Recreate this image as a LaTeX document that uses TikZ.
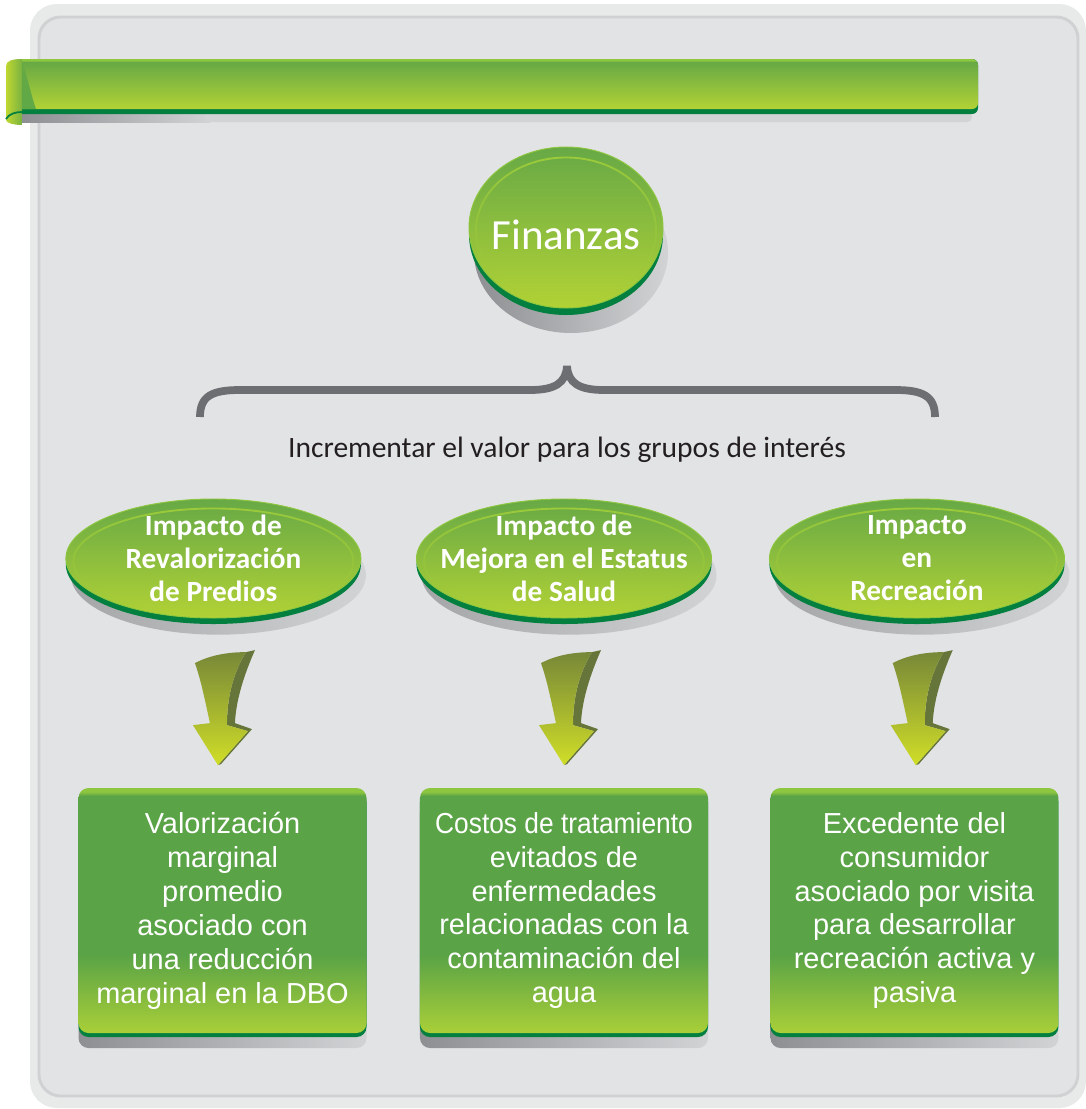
\documentclass[tikz,border=0pt]{standalone}
\usepackage{fontspec}
\newfontfamily\calibri{Carlito}
\newfontfamily\arialfont{Liberation Sans}
\usetikzlibrary{positioning,calc,shapes.geometric,fadings}

\definecolor{panelout}{HTML}{E8E9E9}
\definecolor{panelin}{HTML}{E2E3E5}
\definecolor{panelline}{HTML}{D0D1D3}
\definecolor{bantop}{HTML}{67A945}
\definecolor{banbot}{HTML}{B2D235}
\definecolor{banline}{HTML}{8DC63F}
\definecolor{foldlite}{HTML}{BFD730}
\definecolor{foldgreen}{HTML}{5EA946}
\definecolor{rimgreen}{HTML}{03803F}
\definecolor{shadowdark}{HTML}{8E8F92}
\definecolor{shadowlight}{HTML}{D2D3D5}
\definecolor{facetop}{HTML}{67A946}
\definecolor{facebot}{HTML}{B2D235}
\definecolor{hilite}{HTML}{9CCB3B}
\definecolor{boxtop}{HTML}{8DC63F}
\definecolor{boxmid}{HTML}{5AA346}
\definecolor{boxbot}{HTML}{A9CF38}
\definecolor{arrowtop}{HTML}{778838}
\definecolor{arrowbot}{HTML}{D0DE27}
\definecolor{arrowside}{HTML}{66753A}
\definecolor{textgray}{HTML}{231F20}
\definecolor{bracegray}{HTML}{6D6E71}

\pgfdeclareverticalshading{boxshade}{100bp}{color(0bp)=(boxbot); color(25bp)=(boxbot); color(41bp)=(boxmid); color(73.4bp)=(boxmid); color(74.2bp)=(boxtop); color(100bp)=(boxtop)}
\pgfdeclareverticalshading{bannershade}{100bp}{color(0bp)=(banbot); color(25bp)=(banbot); color(72bp)=(bantop); color(73.5bp)=(banline); color(100bp)=(banline)}
\tikzfading[name=fadedown, top color=transparent!0, bottom color=transparent!100]

\tikzset{
  bendarrow/.pic={
    % side face
    \fill[arrowside] (28,51) -- (37,53) .. controls (26,28) and (18,3) .. (17,-20) -- (34,-26) -- (3,-61) -- (0,-62) -- (30,-28) -- (9,-22) .. controls (9,3) and (14,28) .. (28,51) -- cycle;
    % front face
    \shade[top color=arrowtop, bottom color=arrowbot] (-23,40) .. controls (-8,48) and (10,51) .. (28,51) .. controls (14,28) and (9,3) .. (9,-22) -- (30,-28) -- (0,-62) -- (-25,-22) -- (-8,-20) .. controls (-13,3) and (-17,23) .. (-23,40) -- cycle;
  }
}

\begin{document}
\begin{tikzpicture}[x=0.03cm, y=0.03cm,
  bigdisc/.style={ellipse, inner sep=-3cm, minimum width=5.82cm, minimum height=4.83cm,
    top color=facetop, bottom color=facebot, draw=banline, line width=0.8pt,
    preaction={left color=shadowdark, right color=shadowlight, transform canvas={xshift=0.15cm, yshift=-0.75cm}},
    preaction={fill=rimgreen, transform canvas={yshift=-0.21cm}},
    text=white, font=\calibri\fontsize{36.7}{44}\selectfont, text height=1.32cm},
  oval/.style={ellipse, inner sep=-3cm, minimum width=8.85cm, minimum height=3.57cm,
    top color=facetop, bottom color=facebot, draw=banline, line width=0.8pt,
    preaction={left color=shadowdark!80, right color=shadowlight, transform canvas={xshift=0.15cm, yshift=-0.5cm}},
    preaction={fill=rimgreen, transform canvas={yshift=-0.18cm}},
    text=white, align=center, font=\calibri\bfseries\fontsize{25}{28.2}\selectfont},
  infobox/.style={rectangle, rounded corners=0.3cm, inner sep=0pt, minimum width=8.64cm, minimum height=7.35cm,
    shade, shading=boxshade,
    preaction={left color=shadowdark, right color=shadowlight, transform canvas={yshift=-0.45cm}},
    preaction={fill=rimgreen, transform canvas={yshift=-0.12cm}},
    text=white, align=center, font=\arialfont\fontsize{24.7}{29}\selectfont},
  goaltext/.style={text=textgray, font=\calibri\fontsize{25.2}{29}\selectfont},
  ring/.style={draw=hilite, line width=1.6pt, path fading=fadedown},
  brace/.style={draw=bracegray, line width=6.6pt}]
  \useasboundingbox (0,0) rectangle (1086,-1109);

  % Panel
  \fill[panelout, rounded corners=0.8cm] (30,-4) rectangle (1086,-1108);
  \filldraw[fill=panelin, draw=panelline, line width=2.5pt, rounded corners=0.65cm] (39,-17) rectangle (1078,-1096);

  % Ribbon
  \shade[left color=shadowdark, right color=shadowlight] (22,-112) rectangle (210,-122);
  \fill[shadowlight, rounded corners=4pt] (205,-112) rectangle (972,-122);
  \fill[rimgreen, rounded corners=5pt] (16,-59) rectangle (978,-114);
  \shade[shading=bannershade, rounded corners=5pt] (16,-59) rectangle (978,-109);
  \shade[top color=bantop, bottom color=foldgreen] (22,-61) .. controls (27,-75) and (31,-95) .. (36,-109) -- (22,-109) -- cycle;
  \shade[left color=foldlite, right color=bantop!80!foldlite] (6,-66) .. controls (6,-61) and (12,-59) .. (22,-59) -- (22,-125) .. controls (14,-125) and (6,-123) .. (6,-120) -- cycle;
  \draw[rimgreen, line width=1.5pt] (6,-119) .. controls (9,-114) and (15,-112) .. (22,-112);

  % Define nodes
  \node[bigdisc] (fin) at (566,-227.5) {Finanzas};
  \node[goaltext] (goal) at (567,-450) {Incrementar el valor para los grupos de interés};
  \node[oval] (salud) at (564,-558.5) {Impacto de\\Mejora en el Estatus\\de Salud};
  \node[oval, left=1.64cm of salud] (predios) {Impacto de\\Revalorización\\de Predios};
  \node[oval, right=1.71cm of salud] (recreo) {Impacto\\en\\Recreación};
  \node[infobox] (costos) at (564,-910.5) {\scalebox{0.91}[1]{Costos de tratamiento}\\evitados de\\enfermedades\\relacionadas con la\\contaminación del\\agua};
  \node[infobox, left=1.59cm of costos] (valor) {Valorización\\marginal\\promedio\\asociado con\\una reducción\\marginal en la DBO};
  \node[infobox, right=1.86cm of costos] (excedente) {Excedente del\\consumidor\\asociado por visita\\para desarrollar\\recreación activa y\\pasiva};

  % Highlights
  \draw[ring] ([yshift=-0.09cm]fin.center) ellipse [x radius=90, y radius=73];
  \foreach \n in {predios,salud,recreo}
    \draw[ring] ([yshift=-0.09cm]\n.center) ellipse [x radius=140, y radius=53];

  % Brace
  \draw[brace] (200,-417) .. controls (200,-396) and (212,-390) .. (240,-390) -- (530,-390)
    .. controls (555,-390) and (566,-383) .. (567,-366)
    .. controls (568,-383) and (579,-390) .. (604,-390) -- (895,-390)
    .. controls (923,-390) and (935,-396) .. (935,-417);

  % Arrows
  \pic at ($(predios.south)!.5!(valor.north)$) {bendarrow};
  \pic at ($(salud.south)!.5!(costos.north)$) {bendarrow};
  \pic at ($(recreo.south)!.5!(excedente.north)$) {bendarrow};
\end{tikzpicture}
\end{document}
